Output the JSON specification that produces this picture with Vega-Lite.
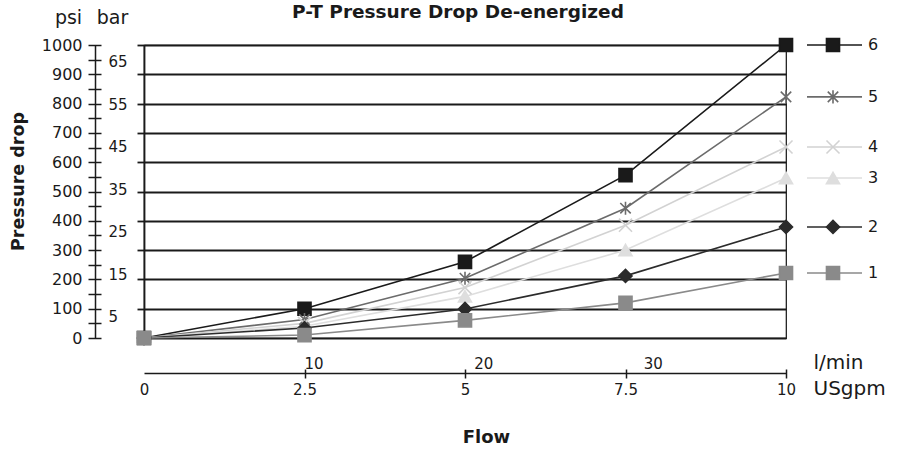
{
  "$schema": "https://vega.github.io/schema/vega-lite/v6.json",
  "width": 642,
  "height": 293,
  "autosize": "none",
  "padding": {"left": 144, "top": 45, "right": 113, "bottom": 112},
  "background": "white",
  "config": {
    "font": "DejaVu Sans",
    "view": {"stroke": "#111111", "strokeWidth": 1.2},
    "axis": {"labelColor": "#1a1a1a", "titleColor": "#1a1a1a", "tickColor": "#1a1a1a", "domainColor": "#1a1a1a"}
  },
  "title": {
    "text": "P-T Pressure Drop De-energized",
    "font": "DejaVu Sans",
    "fontSize": 18.5,
    "fontWeight": "bold",
    "color": "#1a1a1a",
    "anchor": "middle",
    "dx": -7,
    "offset": 0,
    "dy": 13
  },
  "data": {
    "values": [
      {"gpm": 0, "psi": 0, "series": "6"},
      {"gpm": 2.5, "psi": 100, "series": "6"},
      {"gpm": 5, "psi": 260, "series": "6"},
      {"gpm": 7.5, "psi": 556, "series": "6"},
      {"gpm": 10, "psi": 1000, "series": "6"},
      {"gpm": 0, "psi": 0, "series": "5"},
      {"gpm": 2.5, "psi": 63, "series": "5"},
      {"gpm": 5, "psi": 204, "series": "5"},
      {"gpm": 7.5, "psi": 443, "series": "5"},
      {"gpm": 10, "psi": 823, "series": "5"},
      {"gpm": 0, "psi": 0, "series": "4"},
      {"gpm": 2.5, "psi": 50, "series": "4"},
      {"gpm": 5, "psi": 172, "series": "4"},
      {"gpm": 7.5, "psi": 385, "series": "4"},
      {"gpm": 10, "psi": 652, "series": "4"},
      {"gpm": 0, "psi": 0, "series": "3"},
      {"gpm": 2.5, "psi": 40, "series": "3"},
      {"gpm": 5, "psi": 142, "series": "3"},
      {"gpm": 7.5, "psi": 300, "series": "3"},
      {"gpm": 10, "psi": 546, "series": "3"},
      {"gpm": 0, "psi": 0, "series": "2"},
      {"gpm": 2.5, "psi": 34, "series": "2"},
      {"gpm": 5, "psi": 99, "series": "2"},
      {"gpm": 7.5, "psi": 212, "series": "2"},
      {"gpm": 10, "psi": 379, "series": "2"},
      {"gpm": 0, "psi": 0, "series": "1"},
      {"gpm": 2.5, "psi": 10, "series": "1"},
      {"gpm": 5, "psi": 60, "series": "1"},
      {"gpm": 7.5, "psi": 120, "series": "1"},
      {"gpm": 10, "psi": 222, "series": "1"}
    ]
  },
  "resolve": {"axis": {"x": "independent", "y": "independent"}},
  "layer": [
    {
      "mark": {"type": "line", "strokeWidth": 1.6},
      "encoding": {
        "x": {
          "field": "gpm", "type": "quantitative",
          "scale": {"domain": [0, 10], "nice": false, "zero": true},
          "axis": {
            "orient": "bottom", "offset": 31, "values": [0, 2.5, 5, 7.5, 10],
            "labelExpr": "'' + datum.value",
            "domain": false, "grid": false, "tickSize": 9, "tickWidth": 1.5,
            "tickOpacity": {"condition": {"test": "datum.value === 0", "value": 0}, "value": 1},
            "labelFontSize": 15, "labelPadding": 4, "labelFlush": false,
            "title": "USgpm", "titleFontSize": 20, "titleFontWeight": "normal",
            "titleX": 669, "titleY": 19, "titleAlign": "left", "titleBaseline": "middle", "titleAngle": 0
          }
        },
        "y": {
          "field": "psi", "type": "quantitative",
          "scale": {"domain": [0, 1000], "nice": false},
          "axis": {
            "orient": "left", "offset": 0,
            "values": [0, 100, 200, 300, 400, 500, 600, 700, 800, 900, 1000],
            "grid": true, "gridColor": "#1a1a1a", "gridWidth": 1.8, "gridOpacity": 1,
            "domain": true, "domainWidth": 1.8,
            "ticks": true, "tickSize": 7, "tickWidth": 1.8, "labels": false,
            "title": "Pressure drop", "titleFontSize": 17.5, "titleFontWeight": "bold",
            "titleAngle": -90, "titleX": -117, "titleY": 136, "titleAlign": "center", "titleBaseline": "bottom"
          }
        },
        "color": {
          "field": "series", "type": "nominal",
          "scale": {"domain": ["1", "2", "3", "4", "5", "6"], "range": ["#8a8a8a", "#2b2b2b", "#dedede", "#d2d2d2", "#6b6b6b", "#1a1a1a"]},
          "legend": null
        },
        "detail": {"field": "series"}
      }
    },
    {
      "mark": {"type": "point", "filled": true, "opacity": 1, "strokeWidth": 1.6, "size": 170},
      "encoding": {
        "x": {
          "field": "gpm", "type": "quantitative",
          "axis": {
            "orient": "bottom", "offset": 35,
            "values": [2.6417, 5.2834, 7.9252, 10.0385],
            "labelExpr": "format(datum.value * 3.78541, '.0f')",
            "domain": true, "domainWidth": 1.6, "ticks": false, "grid": false,
            "labelFontSize": 15, "labelPadding": -5, "labelBaseline": "alphabetic", "labelFlush": false,
            "title": "l/min", "titleFontSize": 20, "titleFontWeight": "normal",
            "titleX": 669, "titleY": -11, "titleAlign": "left", "titleBaseline": "middle", "titleAngle": 0
          }
        },
        "y": {
          "field": "psi", "type": "quantitative",
          "axis": {
            "orient": "left", "offset": 43,
            "values": [0, 50, 100, 150, 200, 250, 300, 350, 400, 450, 500, 550, 600, 650, 700, 750, 800, 850, 900, 950, 1000],
            "format": "d",
            "labelExpr": "datum.value % 100 === 0 ? datum.label : ''",
            "domain": false, "grid": false, "tickSize": 13, "tickWidth": 1.5,
            "labelFontSize": 16, "labelPadding": 6,
            "title": "psi", "titleFontSize": 19, "titleFontWeight": "normal",
            "titleAngle": 0, "titleX": -33, "titleY": -28, "titleAlign": "center", "titleBaseline": "middle"
          }
        },
        "color": {"field": "series", "type": "nominal", "legend": null},
        "stroke": {"field": "series", "type": "nominal", "scale": {"domain": ["1", "2", "3", "4", "5", "6"], "range": ["#8a8a8a", "#2b2b2b", "#dedede", "#d2d2d2", "#6b6b6b", "#1a1a1a"]}, "legend": null},
        "shape": {
          "field": "series", "type": "nominal",
          "scale": {"domain": ["1", "2", "3", "4", "5", "6"], "range": ["square", "diamond", "triangle-up", "M-1,-1L1,1M-1,1L1,-1", "M0,-1L0,1M-0.8,-0.8L0.8,0.8M-0.8,0.8L0.8,-0.8", "square"]},
          "legend": null
        }
      }
    },
    {
      "mark": {"type": "point", "opacity": 0},
      "encoding": {
        "x": {
          "field": "gpm", "type": "quantitative",
          "axis": {
            "orient": "bottom", "offset": 0, "domain": false, "ticks": false, "labels": false, "grid": false,
            "title": "Flow", "titleFontSize": 18, "titleFontWeight": "bold",
            "titleX": 342, "titleY": 99, "titleAlign": "center", "titleBaseline": "middle"
          }
        },
        "y": {
          "field": "psi", "type": "quantitative",
          "axis": {
            "orient": "left", "offset": 49,
            "values": [72.52, 217.56, 362.6, 507.63, 652.67, 797.71, 942.75],
            "labelExpr": "format(datum.value / 14.5038, '.0f')",
            "domain": true, "domainWidth": 1.5, "ticks": false, "grid": false,
            "labelFontSize": 15, "labelPadding": -13, "labelAlign": "left", "labelBaseline": "middle",
            "title": "bar", "titleFontSize": 19, "titleFontWeight": "normal",
            "titleAngle": 0, "titleX": 17, "titleY": -28, "titleAlign": "center", "titleBaseline": "middle"
          }
        }
      }
    },
    {
      "transform": [{"filter": "datum.gpm === 10"}],
      "mark": {"type": "rule", "strokeWidth": 1.6, "xOffset": 21, "x2Offset": 76},
      "encoding": {
        "x": {"field": "gpm", "type": "quantitative", "axis": null},
        "x2": {"field": "gpm"},
        "y": {"field": "psi", "type": "quantitative", "axis": null},
        "color": {"field": "series", "type": "nominal", "legend": null}
      }
    },
    {
      "transform": [{"filter": "datum.gpm === 10"}],
      "mark": {"type": "point", "filled": true, "opacity": 1, "strokeWidth": 1.6, "size": 170, "xOffset": 47},
      "encoding": {
        "x": {"field": "gpm", "type": "quantitative", "axis": null},
        "y": {"field": "psi", "type": "quantitative", "axis": null},
        "color": {"field": "series", "type": "nominal", "legend": null},
        "stroke": {"field": "series", "type": "nominal", "legend": null},
        "shape": {"field": "series", "type": "nominal", "legend": null}
      }
    },
    {
      "transform": [{"filter": "datum.gpm === 10"}],
      "mark": {"type": "text", "align": "left", "baseline": "middle", "xOffset": 82, "fontSize": 16, "color": "#1a1a1a"},
      "encoding": {
        "x": {"field": "gpm", "type": "quantitative", "axis": null},
        "y": {"field": "psi", "type": "quantitative", "axis": null},
        "text": {"field": "series"}
      }
    }
  ]
}
